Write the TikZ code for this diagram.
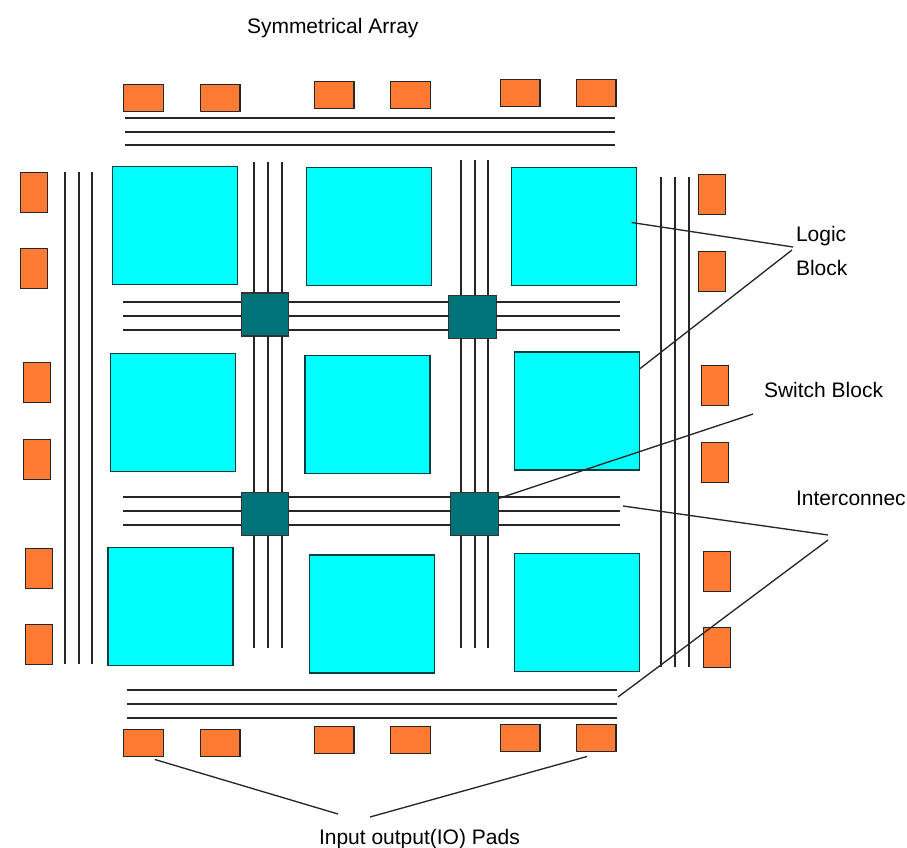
\documentclass[tikz,border=0pt]{standalone}
\usepackage{fontspec}
\setmainfont{Liberation Sans}
\usepackage{tikz}
\definecolor{logiccyan}{RGB}{0,255,255}
\definecolor{switchteal}{RGB}{0,115,120}
\definecolor{padorange}{RGB}{255,122,51}

\begin{document}
\begin{tikzpicture}[x=0.75pt, y=-0.75pt,
    every node/.style={inner sep=0pt, outer sep=0pt},
    logic/.style={rectangle, draw=black!75!logiccyan, line width=0.9pt, fill=logiccyan, minimum width=93.75pt, minimum height=88.5pt},
    switch/.style={rectangle, draw=black!80, line width=0.9pt, fill=switchteal, minimum width=35.75pt, minimum height=32.25pt},
    padh/.style={rectangle, draw=black!85, line width=1pt, fill=padorange, minimum width=29.75pt, minimum height=20.25pt},
    padv/.style={rectangle, draw=black!85, line width=1pt, fill=padorange, minimum width=20.25pt, minimum height=30pt},
    wire/.style={draw=black!85, line width=1pt},
    leader/.style={draw=black!85, line width=1pt},
    caption/.style={font=\fontsize{15.75}{18}\selectfont, text=black, anchor=west}]
        \useasboundingbox (0,0) rectangle (907,848);

        % Logic blocks
        \foreach \name/\x/\y in {L11/175/225.5, L12/369/226.5, L13/574/226.5,
                                 L21/173/412.5, L22/367.5/414.5, L23/577/411,
                                 L31/170.5/606.5, L32/372/614, L33/577/612.5}
        {
          \node[logic] (\name) at (\x,\y) {};
        }

        % Switch blocks
        \node[switch] (S11) at (265,314.5) {};
        \node[switch] (S12) at (472.5,317) {};
        \node[switch] (S21) at (265,514) {};
        \node[switch] (S22) at (474.5,514) {};

        % Pads on the top and the bottom
        \foreach \name/\x/\y in {T1/143.5/98, T2/220/98, T3/334/95, T4/410.5/95, T5/520/93, T6/596/93,
                                 B1/143.5/743, B2/220/743, B3/334/740, B4/410.5/740, B5/520/738, B6/596/738}
        {
          \node[padh] (\name) at (\x,\y) {};
        }

        % Pads on the left and the right
        \foreach \name/\x/\y in {W1/34/192.5, W2/34/268.5, W3/37/382.5, W4/37/459.5, W5/39/568.5, W6/39/644.5,
                                 E1/712/194.5, E2/712/271.5, E3/715/385.5, E4/715/462.5, E5/717/571.5, E6/717/647.5}
        {
          \node[padv] (\name) at (\x,\y) {};
        }

        % Outer wires
        \foreach \y in {118,132,145}
        {
          \draw[wire] (125,\y) -- (615,\y);
        }
        \foreach \y in {690,704,718}
        {
          \draw[wire] (127,\y) -- (617,\y);
        }
        \foreach \x in {65,79,92}
        {
          \draw[wire] (\x,172) -- (\x,664);
        }
        \foreach \x in {661,675,689}
        {
          \draw[wire] (\x,177) -- (\x,667);
        }

        % Inner wires along the rows
        \foreach \y in {302,316,330}
        {
          \draw[wire] (123,\y) -- (S11.west |- 0,\y);
          \draw[wire] (S11.east |- 0,\y) -- (S12.west |- 0,\y);
          \draw[wire] (S12.east |- 0,\y) -- (620,\y);
        }
        \foreach \y in {497,511,525}
        {
          \draw[wire] (123,\y) -- (S21.west |- 0,\y);
          \draw[wire] (S21.east |- 0,\y) -- (S22.west |- 0,\y);
          \draw[wire] (S22.east |- 0,\y) -- (620,\y);
        }

        % Inner wires along the columns
        \foreach \x in {254,268,282}
        {
          \draw[wire] (\x,162) -- (\x,0 |- S11.north);
          \draw[wire] (\x,0 |- S11.south) -- (\x,0 |- S21.north);
          \draw[wire] (\x,0 |- S21.south) -- (\x,648);
        }
        \foreach \x in {461,475,488}
        {
          \draw[wire] (\x,160) -- (\x,0 |- S12.north);
          \draw[wire] (\x,0 |- S12.south) -- (\x,0 |- S22.north);
          \draw[wire] (\x,0 |- S22.south) -- (\x,648);
        }

        % Labels
        \node[caption] (array) at (247,28) {Symmetrical Array};
        \node[caption] (logictop) at (796,236) {Logic};
        \node[caption] (logicbot) at (796,268) {Block};
        \node[caption] (switchlabel) at (764,390) {Switch Block};
        \node[caption] (inter) at (796,498) {Interconnec};
        \node[caption] (pads) at (319,839) {Input output(IO) Pads};

        % Free ends of the leader lines
        \coordinate (logicTipA) at (793,247);
        \coordinate (logicTipB) at (792,250);
        \coordinate (switchTip) at (753,414);
        \coordinate (interTipA) at (828,535);
        \coordinate (interTipB) at (828,540);
        \coordinate (rowEnd) at (623,506);
        \coordinate (busEnd) at (618,697);
        \coordinate (padsTipA) at (338,814);
        \coordinate (padsTipB) at (370,817);

        \draw[leader] ([xshift=-3.75pt, yshift=3pt]L13.east) -- (logicTipA);
        \draw[leader] ([yshift=-12.75pt]L23.north east) -- (logicTipB);
        \draw[leader] ([yshift=-4.5pt]S22.north east) -- (switchTip);
        \draw[leader] (rowEnd) -- (interTipA);
        \draw[leader] (busEnd) -- (interTipB);
        \draw[leader] ([xshift=8.5pt, yshift=-2.25pt]B1.south) -- (padsTipA);
        \draw[leader] ([xshift=-6.75pt, yshift=-3.75pt]B6.south) -- (padsTipB);
\end{tikzpicture}
\end{document}
